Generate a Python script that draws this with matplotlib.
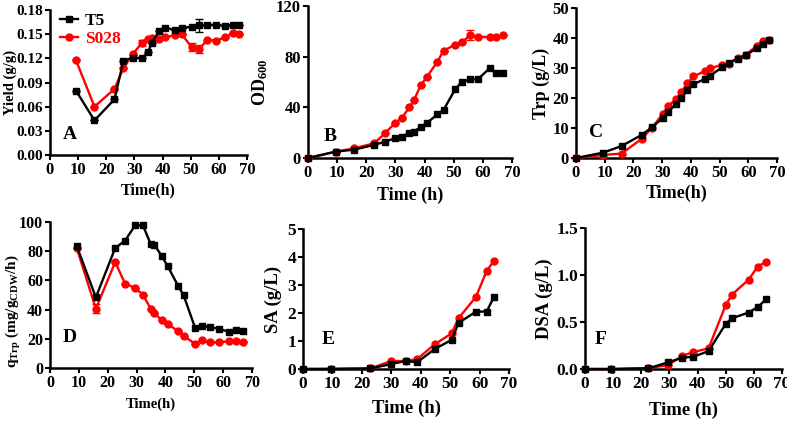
import numpy as np
import matplotlib.pyplot as plt
from matplotlib.lines import Line2D

plt.rcParams['font.family'] = ['Liberation Serif', 'DejaVu Serif']
plt.rcParams['font.weight'] = 'bold'
plt.rcParams['axes.labelweight'] = 'bold'
plt.rcParams['mathtext.fontset'] = 'custom'
plt.rcParams['mathtext.rm'] = 'Liberation Serif:bold'
plt.rcParams['mathtext.it'] = 'Liberation Serif:bold'
plt.rcParams['mathtext.bf'] = 'Liberation Serif:bold'

# ---- data ----
# A: yield
t_a = [9.2, 15.8, 22.9, 26.1, 29.6, 32.6, 34.9, 36.1, 38.9, 40.9,
       44.4, 46.8, 50.3, 53.1, 55.9, 58.9, 62.2, 64.9, 67.3]
yield_t5 = [0.080, 0.043, 0.069, 0.117, 0.121, 0.120, 0.128, 0.139, 0.154, 0.158,
            0.155, 0.158, 0.159, 0.161, 0.161, 0.162, 0.160, 0.162, 0.161]
yield_s028 = [0.118, 0.060, 0.082, 0.108, 0.126, 0.139, 0.144, 0.145, 0.144, 0.146,
              0.149, 0.150, 0.134, 0.132, 0.143, 0.142, 0.146, 0.151, 0.150]
yield_t5_err = [0, 0, 0, 0, 0, 0, 0, 0, 0, 0, 0, 0, 0, 0.008, 0, 0, 0, 0, 0]
yield_s028_err = [0, 0, 0, 0, 0, 0.004, 0, 0, 0, 0, 0, 0, 0.005, 0.005, 0, 0, 0, 0, 0]

# B: OD600
t_b = [0, 9.5, 15.8, 22.7, 26.4, 29.8, 32.1, 34.8, 36.4, 38.7, 40.7,
       44.4, 46.5, 50.5, 52.8, 55.7, 58.5, 62.3, 64.6, 66.9]
od_t5 = [0, 5, 6.6, 10.3, 12.9, 15.5, 16.8, 20, 20.8, 24.7, 27.4,
         34.5, 37.9, 54.2, 60.3, 62.1, 62.6, 70.8, 66.8, 67.4]
od_s028 = [0, 5, 7.6, 11.6, 19.5, 27.4, 31.3, 40, 45.8, 57.6, 63.7,
           76, 84.7, 89.5, 91.3, 97.1, 95.8, 95.3, 95.3, 97]
od_s028_err = [0, 0, 0, 0, 0, 0, 0, 0, 0, 0, 0, 0, 0, 0, 0, 4, 0, 0, 0, 0]

# C: Trp titer
t_c = [0, 9.5, 15.9, 22.9, 26.4, 30.2, 32.2, 34.9, 36.7, 38.8, 40.9,
       44.8, 46.7, 50.8, 53.2, 56.3, 59.3, 63.0, 65.1, 67.1]
trp_t5 = [0, 1.8, 4.0, 7.7, 10.2, 13.3, 15.5, 18.0, 19.9, 22.7, 24.6,
          26.3, 27.4, 30.2, 31.8, 33.0, 34.4, 36.6, 38.1, 39.2]
trp_s028 = [0, 1.0, 1.5, 6.4, 10.0, 14.7, 17.5, 19.6, 21.9, 24.9, 27.2,
            28.9, 29.9, 31.0, 31.5, 33.3, 34.5, 37.5, 39.1, 39.4]

# D: specific Trp production rate
t_d = [9.3, 15.9, 22.6, 26.0, 29.5, 32.2, 34.9, 36.1, 38.8, 40.8,
       44.5, 46.3, 50.3, 52.6, 55.5, 58.4, 62.2, 64.6, 66.9]
q_t5 = [83.3, 48.4, 82.2, 87.2, 97.7, 97.7, 84.9, 84.5, 76.5, 69.6,
        55.9, 49.8, 27.4, 29.0, 27.9, 26.9, 24.7, 25.8, 25.1]
q_s028 = [82.0, 40.6, 72.6, 57.8, 54.8, 50.2, 40.6, 37.7, 32.6, 30.1,
          25.1, 22.1, 16.4, 18.9, 17.6, 17.6, 18.3, 18.3, 17.6]
q_s028_err = [0, 3, 0, 0, 0, 0, 0, 0, 0, 0, 0, 0, 0, 0, 0, 0, 0, 0, 0]

# E: SA
t_e = [0, 9.4, 22.9, 29.8, 34.9, 38.8, 44.7, 50.5, 52.9, 58.8, 62.4, 64.8]
sa_t5 = [0, 0, 0.02, 0.17, 0.29, 0.24, 0.71, 1.04, 1.65, 2.05, 2.05, 2.56]
sa_s028 = [0, 0.01, 0.02, 0.28, 0.29, 0.35, 0.88, 1.27, 1.82, 2.58, 3.50, 3.85]

# F: DSA
t_f = [0, 9.4, 22.5, 29.4, 34.6, 38.5, 43.9, 50.0, 52.2, 58.1, 61.4, 64.3]
dsa_t5 = [0, 0, 0.007, 0.07, 0.12, 0.13, 0.19, 0.48, 0.54, 0.60, 0.66, 0.74]
dsa_s028 = [0, 0, 0.01, 0.04, 0.14, 0.18, 0.22, 0.68, 0.79, 0.95, 1.09, 1.14]

fig = plt.figure(figsize=(7.87, 4.21), dpi=100)

# positions in pixels: left, right, top, bottom
boxes = [(50, 247, 10, 155), (308, 512, 6, 158), (576, 777, 8, 158),
         (50, 252, 222, 368), (303, 509, 229, 369), (585, 782, 228, 369)]


def make_ax(box, tsize):
    l, r, t, b = box
    ax = fig.add_axes([l / 787, (421 - b) / 421, (r - l) / 787, (b - t) / 421])
    for s in ['top', 'right']:
        ax.spines[s].set_visible(False)
    for s in ['left', 'bottom']:
        ax.spines[s].set_linewidth(1.8)
    ax.tick_params(width=1.5, length=3.5, direction='out', pad=1.5, labelsize=tsize)
    ax.set_xlim(0, 70)
    ax.set_xticks(range(0, 71, 10))
    return ax


def draw(ax, t, y1, y2, e1=None, e2=None, ms=5):
    ax.errorbar(t, y2, yerr=e2, color='red', marker='o', ms=ms, lw=1.7,
                capsize=3, elinewidth=1, clip_on=False, zorder=3)
    ax.errorbar(t, y1, yerr=e1, color='black', marker='s', ms=ms, lw=1.7,
                capsize=3, elinewidth=1, clip_on=False, zorder=4)


def labels(ax, xl, xs, xy, yl, ys, yx, yy=0.5):
    ax.set_xlabel(xl, fontsize=xs)
    ax.xaxis.set_label_coords(0.5, xy)
    ax.set_ylabel(yl, fontsize=ys)
    ax.yaxis.set_label_coords(yx, yy)


tick_sizes = [11, 12, 12, 11.5, 12.5, 12.5]
axes = [make_ax(b, s) for b, s in zip(boxes, tick_sizes)]

# A
ax = axes[0]
draw(ax, t_a, yield_t5, yield_s028, yield_t5_err, yield_s028_err)
ax.set_ylim(0, 0.18)
ax.set_yticks(np.arange(0, 0.181, 0.03))
ax.set_yticklabels(['0.00', '0.03', '0.06', '0.09', '0.12', '0.15', '0.18'])
ax.tick_params(axis='x', labelsize=12)
labels(ax, 'Time(h)', 11.5, -0.19, 'Yield (g/g)', 10.5, -0.17)
handles = [Line2D([], [], color='black', marker='s', ms=5, lw=1.7),
           Line2D([], [], color='red', marker='o', ms=5, lw=1.7)]
ax.legend(handles, ['T5', 'S028'], loc='upper left', bbox_to_anchor=(0.0, 1.05),
          frameon=False, fontsize=12.5, handlelength=1.0, handletextpad=0.4,
          labelspacing=0.1, labelcolor='linecolor', borderaxespad=0.2)
ax.text(0.10, 0.14, 'A', transform=ax.transAxes, fontsize=14, ha='center', va='center')

# B
ax = axes[1]
draw(ax, t_b, od_t5, od_s028, None, od_s028_err)
ax.set_ylim(0, 120)
ax.set_yticks(range(0, 121, 40))
labels(ax, 'Time (h)', 13, -0.19, r'OD$_{600}$', 13, -0.185)
ax.text(0.11, 0.14, 'B', transform=ax.transAxes, fontsize=14, ha='center', va='center')

# C
ax = axes[2]
draw(ax, t_c, trp_t5, trp_s028)
ax.set_ylim(0, 50)
ax.set_yticks(range(0, 51, 10))
labels(ax, 'Time(h)', 13, -0.18, 'Trp (g/L)', 13, -0.13)
ax.text(0.10, 0.17, 'C', transform=ax.transAxes, fontsize=14, ha='center', va='center')

# D
ax = axes[3]
draw(ax, t_d, q_t5, q_s028, None, q_s028_err)
ax.set_ylim(0, 100)
ax.set_yticks(range(0, 101, 20))
labels(ax, 'Time(h)', 10.5, -0.2, r'q$_{\mathrm{Trp}}$ (mg/g$_{\mathrm{CDW}}$/h)',
       11, -0.135, 0.39)
ax.text(0.10, 0.21, 'D', transform=ax.transAxes, fontsize=14, ha='center', va='center')

# E
ax = axes[4]
draw(ax, t_e, sa_t5, sa_s028)
ax.set_ylim(0, 5)
ax.set_yticks(range(0, 6))
labels(ax, 'Time (h)', 13.5, -0.22, 'SA (g/L)', 13.5, -0.10)
ax.text(0.12, 0.21, 'E', transform=ax.transAxes, fontsize=14, ha='center', va='center')

# F
ax = axes[5]
draw(ax, t_f, dsa_t5, dsa_s028)
ax.set_ylim(0, 1.5)
ax.set_yticks([0, 0.5, 1.0, 1.5])
ax.set_yticklabels(['0.0', '0.5', '1.0', '1.5'])
labels(ax, 'Time (h)', 13.5, -0.23, 'DSA (g/L)', 13.5, -0.16)
ax.text(0.08, 0.21, 'F', transform=ax.transAxes, fontsize=14, ha='center', va='center')

fig.savefig('out.png', dpi=100)
